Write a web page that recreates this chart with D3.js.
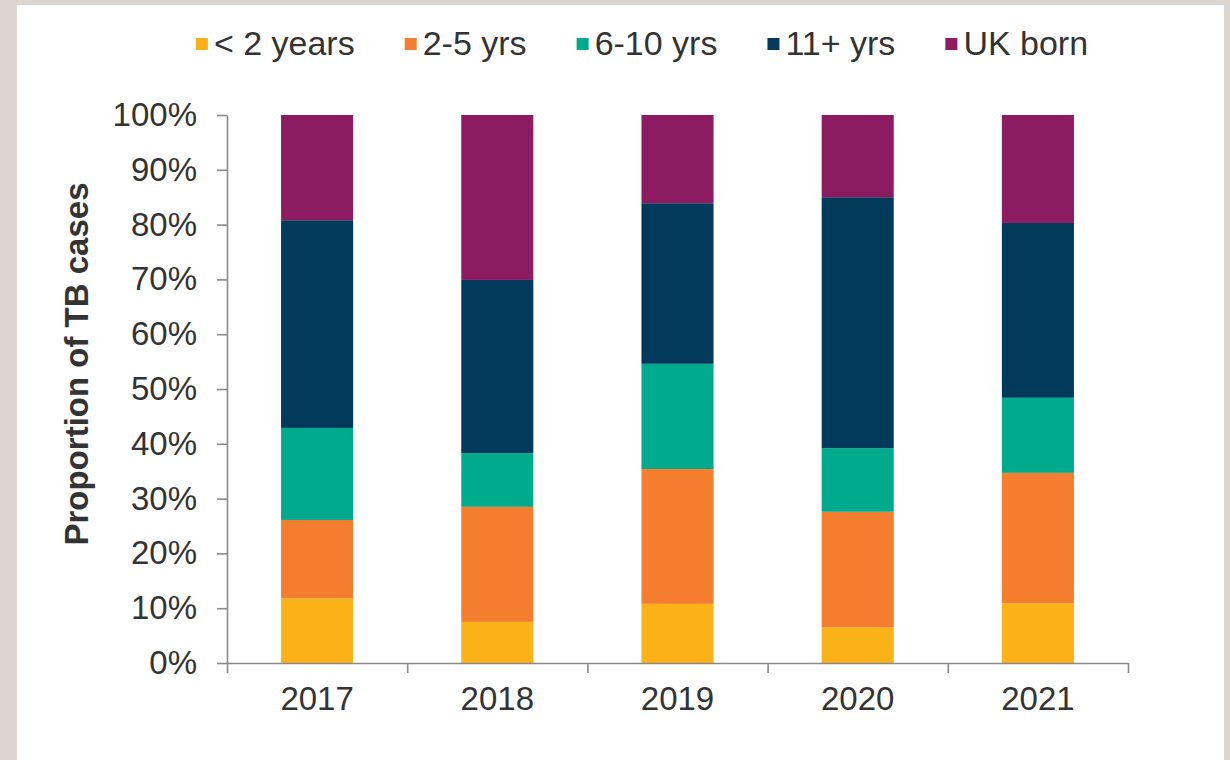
<!DOCTYPE html>
<html>
<head>
<meta charset="utf-8">
<script src="https://cdn.jsdelivr.net/npm/d3@7"></script>
<style>
  body { margin: 0; background: #dcd5d0; }
  svg { display: block; }
  text { font-family: "Liberation Sans", Arial, sans-serif; fill: #333; }
</style>
</head>
<body>
<svg id="chart" width="1230" height="760"></svg>
<script>
// Proportion of TB cases by time since entry to the UK, per year (%)
const years = ["2017", "2018", "2019", "2020", "2021"];
const seriesNames = ["< 2 years", "2-5 yrs", "6-10 yrs", "11+ yrs", "UK born"];
const under2Years = [11.8, 7.5, 10.8, 6.5, 10.9];
const years2to5 = [14.3, 21.0, 24.6, 21.1, 23.8];
const years6to10 = [16.8, 9.8, 19.2, 11.6, 13.7];
const years11plus = [37.9, 31.6, 29.3, 45.8, 31.9];
const ukBorn = [19.2, 30.1, 16.1, 15.0, 19.7];
const yTickValues = [0, 10, 20, 30, 40, 50, 60, 70, 80, 90, 100];
const seriesColors = ["#fbb216", "#f57e2e", "#00aa8d", "#023a5b", "#8c1b62"];

const seriesValues = [under2Years, years2to5, years6to10, years11plus, ukBorn];
const rows = years.map((year, i) => {
  const row = { year };
  seriesNames.forEach((name, s) => { row[name] = seriesValues[s][i]; });
  return row;
});

const svg = d3.select("#chart");

// white panel inside the frame
svg.append("rect")
  .attr("x", 17).attr("y", 5)
  .attr("width", 1207).attr("height", 755)
  .attr("fill", "#ffffff");

const plot = { left: 227, right: 1128, top: 115, bottom: 663 };

const x = d3.scaleBand()
  .domain(years)
  .range([plot.left, plot.right])
  .paddingInner(0.6)
  .paddingOuter(0.3);

const y = d3.scaleLinear()
  .domain([0, 100])
  .range([plot.bottom, plot.top]);

const color = d3.scaleOrdinal().domain(seriesNames).range(seriesColors);

const stacked = d3.stack().keys(seriesNames)(rows);

// stacked bars
svg.append("g")
  .selectAll("g")
  .data(stacked)
  .join("g")
  .attr("fill", d => color(d.key))
  .selectAll("rect")
  .data(d => d)
  .join("rect")
  .attr("x", d => x(d.data.year))
  .attr("width", x.bandwidth())
  .attr("y", d => y(d[1]))
  .attr("height", d => y(d[0]) - y(d[1]));

const axisColor = "#8a8a8a";

// y axis
const yAxis = svg.append("g")
  .attr("transform", `translate(${plot.left},0)`)
  .call(d3.axisLeft(y)
    .tickValues(yTickValues)
    .tickFormat(d => d + "%")
    .tickSize(10)
    .tickPadding(20)
    .tickSizeOuter(0));
yAxis.selectAll("text").style("font-size", "33px").attr("fill", "#333");

// x axis: boundary ticks between categories
const boundary = d3.scaleLinear().domain([0, years.length]).range([plot.left, plot.right]);
svg.append("g")
  .attr("transform", `translate(0,${plot.bottom})`)
  .call(d3.axisBottom(boundary)
    .tickValues(d3.range(0, years.length + 1))
    .tickFormat("")
    .tickSize(10)
    .tickSizeOuter(0));

// x axis: category labels
const xLabels = svg.append("g")
  .attr("transform", `translate(0,${plot.bottom})`)
  .call(d3.axisBottom(x).tickSize(0).tickPadding(24));
xLabels.select(".domain").remove();
xLabels.selectAll("text").style("font-size", "33px").attr("fill", "#333");

svg.selectAll(".domain, .tick line")
  .attr("stroke", axisColor)
  .attr("stroke-width", 1.6);

// y axis title
svg.append("text")
  .attr("transform", "translate(88,364) rotate(-90)")
  .attr("text-anchor", "middle")
  .style("font-size", "33px")
  .style("font-weight", "bold")
  .text("Proportion of TB cases");

// legend
const legend = svg.append("g");
const items = legend.selectAll("g")
  .data(seriesNames)
  .join("g");
items.append("rect")
  .attr("width", 12).attr("height", 12)
  .attr("y", 38)
  .attr("fill", d => color(d));
items.append("text")
  .attr("x", 18)
  .attr("y", 55)
  .style("font-size", "34px")
  .text(d => d);

let cursor = 0;
const gap = 50;
items.each(function () {
  const g = d3.select(this);
  g.attr("transform", `translate(${cursor},0)`);
  cursor += 18 + g.select("text").node().getComputedTextLength() + gap;
});
const legendWidth = cursor - gap;
legend.attr("transform", `translate(${642 - legendWidth / 2},0)`);
</script>
</body>
</html>
